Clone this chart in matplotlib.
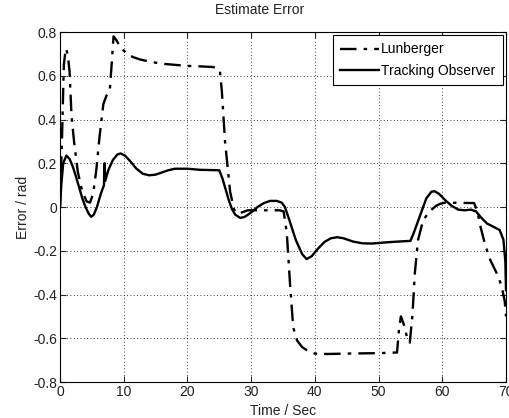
import numpy as np
import matplotlib
matplotlib.use('Agg')
import matplotlib.pyplot as plt

plt.rcParams['font.family'] = ['Liberation Sans', 'DejaVu Sans']
plt.rcParams['axes.unicode_minus'] = False

# tracking observer error
t_track = [0, 0.2, 0.5, 1.0, 1.5, 2.0, 2.5, 3.0, 3.5, 4.0, 4.5, 4.9, 5.3, 5.8, 6.4, 6.9, 7.0, 7.1,
           7.6, 8.3, 9.0, 9.5, 10.2, 11.0, 12.0, 13.0, 14.0, 15.0, 16.0, 17.0, 18.0, 20.0, 22.0, 25.0,
           25.5, 26.0, 26.5, 27.0, 27.5, 28.3, 29.0, 30.0, 31.0, 32.0, 33.0, 34.0, 34.8, 35.3, 36.0,
           37.0, 38.0, 38.7, 39.5, 40.5, 41.5, 42.5, 43.5, 44.5, 46.0, 47.5, 49.0, 51.0, 53.0, 55.0,
           55.5, 56.5, 57.5, 58.3, 58.8, 59.5, 60.5, 61.5, 62.5, 63.5, 64.5, 65.3, 66.0, 67.0, 68.0,
           69.0, 69.6, 69.9, 70.0]
e_track = [0.0, 0.1, 0.2, 0.235, 0.22, 0.185, 0.14, 0.09, 0.04, 0.0, -0.03, -0.045, -0.035, 0.0,
           0.06, 0.1, 0.2, 0.12, 0.17, 0.215, 0.24, 0.245, 0.235, 0.21, 0.175, 0.152, 0.145, 0.148,
           0.158, 0.168, 0.175, 0.175, 0.17, 0.168, 0.13, 0.08, 0.03, -0.01, -0.035, -0.05, -0.045,
           -0.025, 0.0, 0.018, 0.028, 0.028, 0.02, 0.0, -0.06, -0.15, -0.215, -0.238, -0.225, -0.19,
           -0.16, -0.143, -0.138, -0.143, -0.158, -0.166, -0.167, -0.162, -0.158, -0.155, -0.12,
           -0.04, 0.04, 0.07, 0.072, 0.06, 0.03, 0.005, -0.012, -0.015, -0.012, -0.02, -0.045,
           -0.075, -0.09, -0.105, -0.15, -0.25, -0.38]

# lunberger observer error
t_lun = [0, 0.3, 0.6, 0.9, 1.2, 1.5, 1.8, 2.2, 2.8, 3.5, 4.2, 4.7, 5.2, 5.7, 6.2, 6.8, 7.3, 7.8,
         8.1, 8.4, 8.8, 9.5, 10.5, 11.5, 12.5, 14.0, 16.0, 18.0, 20.0, 22.0, 24.0, 24.7, 25.1, 25.4,
         25.9, 26.7, 27.3, 27.8, 28.5, 29.5, 30.5, 34.5, 35.1, 35.6, 36.1, 36.6, 37.2, 38.0, 39.0,
         40.0, 42.0, 45.0, 50.0, 52.9, 53.2, 53.5, 54.0, 54.5, 54.9, 55.3, 55.7, 56.2, 57.0, 58.0,
         59.0, 59.7, 60.5, 65.0, 65.5, 66.0, 66.7, 67.5, 68.5, 69.3, 69.8, 70.0]
e_lun = [0.0, 0.3, 0.65, 0.725, 0.7, 0.62, 0.42, 0.3, 0.16, 0.07, 0.025, 0.02, 0.06, 0.17, 0.32,
         0.47, 0.51, 0.53, 0.65, 0.78, 0.765, 0.73, 0.70, 0.685, 0.675, 0.665, 0.655, 0.65, 0.645,
         0.643, 0.64, 0.635, 0.62, 0.53, 0.30, 0.07, -0.01, -0.03, -0.025, -0.015, -0.015, -0.015,
         -0.02, -0.12, -0.35, -0.55, -0.61, -0.64, -0.66, -0.67, -0.672, -0.67, -0.668, -0.665,
         -0.56, -0.50, -0.54, -0.60, -0.62, -0.5, -0.3, -0.15, -0.06, -0.02, 0.005, 0.015, 0.02,
         0.018, -0.02, -0.09, -0.17, -0.24, -0.30, -0.36, -0.43, -0.5]

xticks = np.arange(0, 71, 10)
yticks = np.round(np.arange(-0.8, 0.81, 0.2), 1)
ytick_labels = ['-0.8', '-0.6', '-0.4', '-0.2', '0', '0.2', '0.4', '0.6', '0.8']

fig = plt.figure(figsize=(5.09, 4.18), dpi=100)
ax = fig.add_axes([0.1179, 0.0861, 0.8762, 0.8373])

ax.plot(t_lun, e_lun, color='black', lw=1.7, ls=(0, (7, 3, 1.5, 3)), label='Lunberger')
ax.plot(t_track, e_track, color='black', lw=1.7, ls='-', label='Tracking Observer')

ax.set_xlim(0, 70)
ax.set_ylim(-0.8, 0.8)
ax.set_xticks(xticks)
ax.set_yticks(yticks)
ax.set_yticklabels(ytick_labels)
ax.tick_params(direction='in', length=4, top=True, right=True, labelsize=10, pad=2,
               colors='#222222')
ax.grid(True, color='black', ls=(0, (1, 3)), lw=0.6)
for s in ax.spines.values():
    s.set_linewidth(0.8)

# title sits a bit left of the axes centre in the original
ax.set_title('Estimate Error', fontsize=10, pad=13, x=(260 - 60) / 446, color='#222222')
ax.set_xlabel('Time / Sec', fontsize=10, labelpad=4, color='#222222')
ax.set_ylabel('Error / rad', fontsize=10, labelpad=2, color='#222222')

leg = ax.legend(loc='upper right', fontsize=10, borderaxespad=0.25, handlelength=2.85,
                handletextpad=0.15, fancybox=False, framealpha=1, edgecolor='black',
                borderpad=0.5, labelspacing=0.55)
leg.get_frame().set_linewidth(0.8)

fig.savefig('out.png', dpi=100)
